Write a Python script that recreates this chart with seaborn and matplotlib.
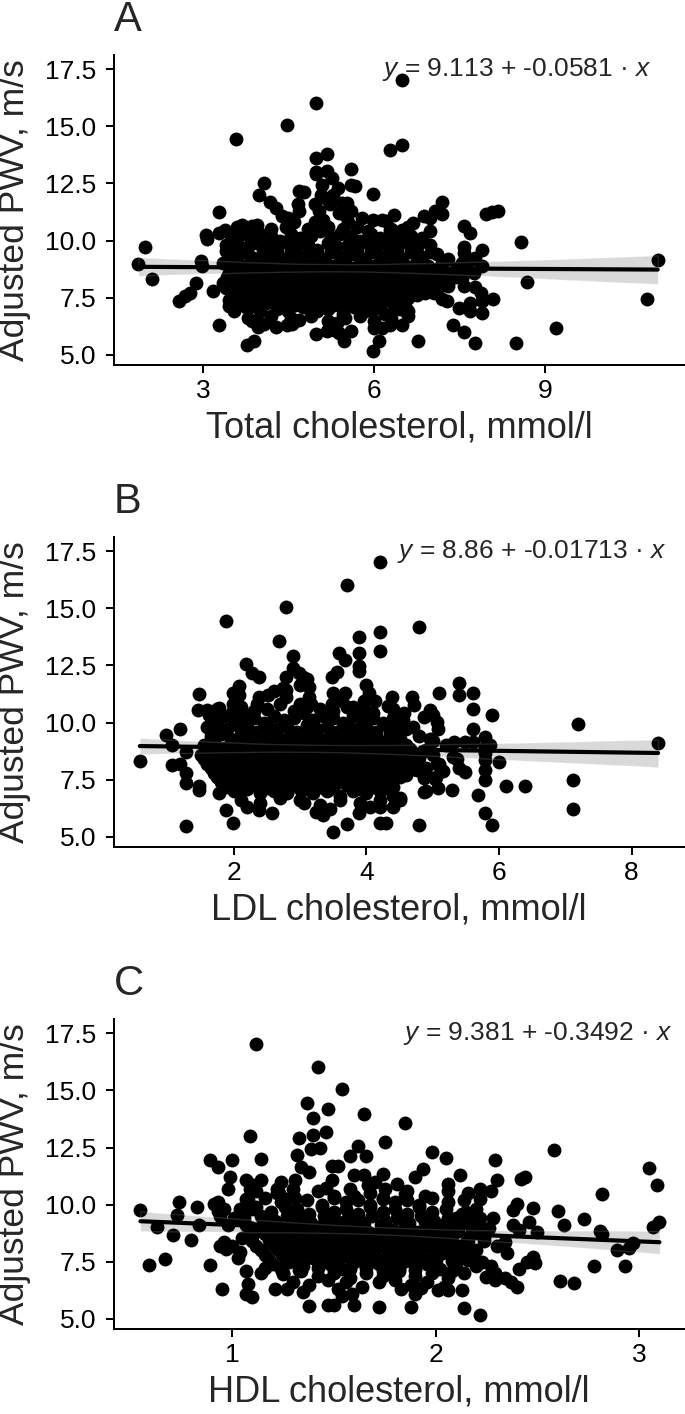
# =============================================================================
# ADJUSTED PWV VS CHOLESTEROL FRACTIONS (3 PANELS)
# =============================================================================

import pandas as pd
import numpy as np
import seaborn as sns
import matplotlib.pyplot as plt

# =============================================================================
# DATA (cholesterol mmol/l, adjusted PWV m/s)
# =============================================================================

# Panel A - total cholesterol, scattered points around the cloud
tc_outer = [
    (6.49, 17.03), (4.99, 16.04), (4.48, 15.04), (3.58, 14.45), (6.28, 13.97),
    (6.49, 14.19), (4.98, 13.61), (5.18, 13.78), (5.59, 13.14), (4.99, 13.0),
    (4.99, 12.9), (5.18, 13.03), (5.26, 12.76), (5.09, 12.44), (4.08, 12.51),
    (3.99, 12.0), (4.18, 11.71), (4.29, 11.42), (4.39, 11.06), (4.49, 10.98),
    (4.68, 12.15), (4.78, 12.12), (4.67, 11.6), (4.68, 11.3), (5.07, 12.0),
    (5.28, 12.0), (5.37, 12.3), (5.44, 11.64), (5.52, 11.64), (5.59, 12.44),
    (5.67, 12.37), (5.59, 11.28), (5.99, 12.03), (5.79, 10.98), (5.98, 10.91),
    (6.14, 10.91), (6.22, 10.84), (6.28, 10.47), (6.36, 11.13), (6.49, 10.47),
    (6.68, 10.77), (6.88, 11.06), (6.98, 10.98), (7.07, 11.28), (7.19, 11.16),
    (7.19, 11.71), (6.98, 10.4), (6.98, 9.82), (7.0, 9.5), (7.96, 11.16),
    (8.07, 11.25), (8.18, 11.28), (7.59, 10.62), (7.69, 10.33), (7.58, 9.72),
    (7.58, 9.45), (7.89, 9.6), (7.78, 9.23), (8.59, 9.93), (8.69, 8.17),
    (10.98, 9.13), (10.79, 7.46), (9.19, 6.17), (8.49, 5.52), (7.78, 5.52),
    (7.59, 6.0), (7.38, 6.32), (7.89, 6.83), (7.89, 7.34), (7.68, 7.27),
    (7.68, 6.9), (8.09, 7.46), (7.78, 7.95), (7.88, 7.7), (7.58, 8.0),
    (7.49, 7.05), (7.19, 7.46), (7.29, 7.34), (6.78, 5.59), (6.09, 5.59),
    (5.98, 5.18), (5.48, 5.59), (4.99, 5.93), (5.17, 6.03), (5.3, 6.1),
    (5.39, 5.95), (5.59, 6.03), (6.0, 6.17), (6.14, 6.17), (6.28, 6.32),
    (6.49, 6.32), (3.78, 5.44), (3.89, 5.59), (3.28, 6.32), (3.97, 6.2),
    (4.07, 6.35), (4.28, 6.2), (4.47, 6.32), (4.57, 6.35), (4.68, 6.54),
    (3.87, 6.47), (2.58, 7.34), (2.68, 7.56), (2.78, 7.7), (2.88, 8.14),
    (3.18, 7.78), (2.1, 8.33), (1.98, 9.74), (1.87, 8.99), (2.97, 9.09),
    (2.98, 8.91), (3.06, 10.26), (3.08, 10.08), (3.28, 11.25), (3.28, 10.33),
    (3.39, 10.47), (3.68, 10.69), (3.87, 10.62), (3.41, 9.53), (3.36, 8.14),
    (3.41, 7.92), (3.45, 7.12), (3.55, 6.9), (3.58, 7.27), (7.9, 8.9),
    (7.75, 8.6), (7.65, 9.1), (7.55, 9.0), (7.75, 9.2), (7.43, 8.4),
    (7.55, 8.35), (7.14, 7.95), (7.05, 7.7), (4.97, 11.6), (5.04, 11.3),
    (5.1, 10.9), (4.97, 10.8), (5.17, 11.8), (5.23, 11.6), (5.39, 11.2),
    (5.49, 11.1), (5.55, 10.8),
]

# Panel A - dense middle of the cloud
tc_core = [
    (3.6, 10.6), (3.95, 10.7), (4.2, 10.5), (4.45, 10.6), (4.6, 10.8), (4.85, 10.5),
    (5.0, 10.7), (5.2, 10.6), (5.45, 10.5), (5.7, 10.6), (5.9, 10.4), (6.3, 10.5),
    (6.6, 10.6),
    (3.5, 10.2), (3.7, 10.3), (3.85, 10.1), (4.0, 10.3), (4.2, 10.2), (4.35, 10.0),
    (4.55, 10.3), (4.7, 10.1), (4.9, 10.2), (5.05, 10.4), (5.25, 10.1), (5.4, 10.3),
    (5.6, 10.2), (5.75, 10.0), (5.95, 10.3), (6.1, 10.1), (6.3, 10.2), (6.45, 10.0),
    (6.65, 10.2), (6.85, 10.1),
    (3.4, 9.8), (3.6, 9.9), (3.8, 9.7), (3.95, 9.9), (4.15, 9.8), (4.3, 9.6),
    (4.5, 9.9), (4.65, 9.7), (4.85, 9.8), (5.0, 9.6), (5.2, 9.9), (5.35, 9.7),
    (5.55, 9.8), (5.7, 9.6), (5.9, 9.9), (6.05, 9.7), (6.25, 9.8), (6.4, 9.6),
    (6.6, 9.9), (6.75, 9.7),
    (3.5, 9.4), (3.7, 9.5), (3.85, 9.3), (4.05, 9.5), (4.2, 9.4), (4.4, 9.2),
    (4.55, 9.5), (4.75, 9.3), (4.9, 9.4), (5.1, 9.2), (5.25, 9.5), (5.45, 9.3),
    (5.6, 9.4), (5.8, 9.2), (5.95, 9.5), (6.15, 9.3), (6.3, 9.4), (6.5, 9.2),
    (6.65, 9.5), (6.85, 9.3), (7.1, 9.4), (7.3, 9.2),
    (3.35, 9.0), (3.55, 9.1), (3.75, 8.9), (3.9, 9.1), (4.1, 9.0), (4.25, 8.8),
    (4.45, 9.1), (4.6, 8.9), (4.8, 9.0), (4.95, 8.8), (5.15, 9.1), (5.3, 8.9),
    (5.5, 9.0), (5.65, 8.8), (5.85, 9.1), (6.0, 8.9), (6.35, 9.0), (6.55, 8.8),
    (6.75, 9.1), (6.95, 8.9), (7.2, 9.0), (7.45, 8.8),
    (3.45, 8.6), (3.65, 8.7), (3.8, 8.5), (4.0, 8.7), (4.15, 8.6), (4.35, 8.4),
    (4.5, 8.7), (4.7, 8.5), (4.85, 8.6), (5.05, 8.4), (5.2, 8.7), (5.4, 8.5),
    (5.55, 8.6), (5.75, 8.4), (5.9, 8.7), (6.1, 8.5), (6.45, 8.6), (6.6, 8.4),
    (6.8, 8.7), (7.0, 8.5), (7.25, 8.6), (7.4, 8.4), (7.55, 8.7),
    (3.4, 8.2), (3.55, 8.3), (3.75, 8.1), (3.9, 8.3), (4.1, 8.2), (4.25, 8.0),
    (4.45, 8.3), (4.6, 8.1), (4.8, 8.2), (4.95, 8.0), (5.15, 8.3), (5.3, 8.1),
    (5.5, 8.2), (5.65, 8.0), (5.85, 8.3), (6.0, 8.1), (6.2, 8.2), (6.5, 8.0),
    (6.7, 8.3), (6.9, 8.1), (7.1, 8.2), (7.3, 8.0),
    (3.5, 7.8), (3.7, 7.9), (3.85, 7.7), (4.05, 7.9), (4.2, 7.8), (4.4, 7.6),
    (4.55, 7.9), (4.75, 7.7), (4.9, 7.8), (5.1, 7.6), (5.25, 7.9), (5.45, 7.7),
    (5.6, 7.8), (5.8, 7.6), (5.95, 7.9), (6.15, 7.7), (6.3, 7.8), (6.5, 7.6),
    (6.7, 7.9), (6.9, 7.7),
    (3.45, 7.4), (3.6, 7.5), (3.8, 7.3), (3.95, 7.5), (4.15, 7.4), (4.3, 7.2),
    (4.5, 7.5), (4.65, 7.3), (4.85, 7.4), (5.0, 7.2), (5.2, 7.5), (5.35, 7.3),
    (5.55, 7.4), (5.7, 7.2), (5.9, 7.5), (6.05, 7.3), (6.25, 7.4), (6.4, 7.2),
    (6.6, 7.5),
    (3.55, 7.0), (3.75, 7.1), (4.0, 6.9), (4.3, 7.0), (4.5, 6.9), (4.75, 7.1),
    (5.0, 6.9), (5.2, 7.0), (5.45, 6.8), (5.65, 7.1), (5.85, 6.9), (6.0, 7.0),
    (6.2, 6.8), (6.45, 7.0), (6.6, 6.9),
    (3.8, 6.6), (4.2, 6.7), (4.55, 6.6), (4.9, 6.7), (5.2, 6.5), (5.5, 6.6),
    (5.75, 6.7), (6.0, 6.5), (6.3, 6.6), (6.6, 6.7), (3.95, 6.5), (5.35, 6.4),
]

# Panel A - the darkest band (7 to 9.3 m/s)
tc_band = [
    (3.5, 8.85), (3.68, 8.8), (3.86, 8.9), (4.04, 8.8), (4.22, 8.85), (4.4, 8.9),
    (4.58, 8.8), (4.76, 8.85), (4.94, 8.9), (5.12, 8.8), (5.3, 8.85), (5.48, 8.9),
    (5.66, 8.8), (5.84, 8.85), (6.02, 8.9), (6.2, 8.8), (6.38, 8.85), (6.56, 8.9),
    (6.74, 8.8), (6.92, 8.85), (7.1, 8.75),
    (3.42, 8.4), (3.6, 8.45), (3.78, 8.35), (3.96, 8.45), (4.14, 8.4), (4.32, 8.35),
    (4.5, 8.45), (4.68, 8.4), (4.86, 8.35), (5.04, 8.45), (5.22, 8.4), (5.4, 8.35),
    (5.58, 8.45), (5.76, 8.4), (5.94, 8.35), (6.12, 8.45), (6.3, 8.4), (6.48, 8.35),
    (6.66, 8.45), (6.84, 8.4), (7.02, 8.35), (7.2, 8.4),
    (3.48, 8.0), (3.66, 8.05), (3.84, 7.95), (4.02, 8.05), (4.2, 8.0), (4.38, 7.95),
    (4.56, 8.05), (4.74, 8.0), (4.92, 7.95), (5.1, 8.05), (5.28, 8.0), (5.46, 7.95),
    (5.64, 8.05), (5.82, 8.0), (6.0, 7.95), (6.18, 8.05), (6.36, 8.0), (6.54, 7.95),
    (6.72, 8.05), (6.9, 8.0),
    (3.52, 7.6), (3.7, 7.65), (3.88, 7.55), (4.06, 7.65), (4.24, 7.6), (4.42, 7.55),
    (4.6, 7.65), (4.78, 7.6), (4.96, 7.55), (5.14, 7.65), (5.32, 7.6), (5.5, 7.55),
    (5.68, 7.65), (5.86, 7.6), (6.04, 7.55), (6.22, 7.65), (6.4, 7.6), (6.58, 7.55),
    (6.76, 7.6),
    (3.6, 7.2), (3.85, 7.15), (4.1, 7.25), (4.4, 7.15), (4.62, 7.2), (4.9, 7.25),
    (5.1, 7.1), (5.3, 7.2), (5.55, 7.15), (5.8, 7.25), (6.1, 7.1), (6.35, 7.2),
    (6.55, 7.15),
    (3.6, 9.25), (3.95, 9.2), (4.3, 9.25), (4.65, 9.2), (5.0, 9.25), (5.4, 9.2),
    (5.75, 9.25), (6.1, 9.2), (6.45, 9.25), (6.8, 9.2),
]

# Panel B - LDL cholesterol, scattered points around the cloud
ldl_outer = [
    (4.2, 17.03), (3.7, 16.04), (2.79, 15.04), (1.88, 14.45), (2.68, 13.58),
    (4.8, 14.19), (4.2, 13.97), (3.89, 13.75), (4.2, 13.14), (3.89, 13.03),
    (3.89, 12.49), (3.89, 12.24), (3.58, 13.03), (3.68, 12.73), (2.89, 12.91),
    (2.18, 12.56), (2.28, 12.15), (2.38, 11.98), (2.89, 12.38), (2.98, 12.15),
    (3.04, 12.0), (3.1, 11.93), (2.78, 12.0), (2.78, 11.42), (2.78, 11.13),
    (3.0, 11.64), (3.13, 11.57), (3.48, 12.0), (3.55, 12.2), (3.99, 11.64),
    (4.04, 11.28), (3.49, 11.3), (3.67, 11.3), (4.32, 10.74), (4.39, 11.13),
    (4.69, 11.1), (4.71, 10.77), (5.1, 11.28), (5.39, 11.74), (5.39, 11.2),
    (5.6, 11.28), (5.6, 10.59), (5.6, 9.74), (5.9, 10.33), (5.79, 9.38),
    (5.79, 8.94), (5.87, 9.02), (6.0, 8.28), (6.1, 7.24), (6.39, 7.24),
    (7.19, 9.93), (7.11, 7.5), (7.11, 6.2), (8.4, 9.13), (5.9, 5.53),
    (5.79, 6.03), (5.69, 6.83), (5.79, 7.5), (5.79, 7.93), (4.79, 5.53),
    (4.2, 5.59), (4.29, 5.62), (3.7, 5.57), (3.49, 5.2), (1.99, 5.59),
    (1.28, 5.47), (1.88, 6.17), (2.38, 6.17), (2.57, 6.03), (0.58, 8.33),
    (0.98, 9.45), (1.18, 9.72), (1.07, 9.02), (1.07, 8.14), (1.18, 8.2),
    (1.28, 8.72), (1.28, 7.79), (1.28, 7.34), (1.48, 7.22), (1.48, 7.05),
    (1.48, 11.25), (1.46, 10.55), (1.6, 10.55), (1.63, 10.33), (1.78, 10.66),
    (1.99, 11.28), (2.08, 11.6), (1.78, 6.9), (3.06, 6.5), (3.24, 6.11),
    (3.35, 5.96), (3.89, 6.03), (4.21, 6.32), (4.4, 6.32), (4.51, 6.6),
    (4.87, 6.97), (5.08, 7.12), (5.29, 7.05), (3.13, 11.1), (3.16, 10.8),
    (2.74, 11.5), (2.52, 11.2), (2.6, 11.4), (2.38, 11.1), (2.35, 10.8),
    (2.07, 11.2), (1.99, 10.8), (1.99, 10.5), (2.99, 10.8), (3.02, 10.5),
    (3.48, 10.8), (3.63, 10.95), (3.79, 10.7), (3.96, 10.95), (4.01, 10.47),
    (4.13, 10.95), (4.57, 10.4), (4.6, 9.7), (4.87, 10.25), (4.96, 10.55),
    (5.01, 10.33), (5.07, 10.04), (5.08, 9.7), (4.96, 9.3), (5.32, 9.15),
    (5.49, 9.15), (5.6, 9.15), (5.37, 8.43), (5.4, 8.0), (5.49, 7.85),
    (5.79, 8.35), (5.79, 8.65), (5.07, 8.2), (5.15, 7.9), (5.04, 7.55),
    (4.74, 8.3), (4.76, 7.93), (4.87, 7.57), (4.9, 7.0),
]

# Panel B - dense middle of the cloud
ldl_core = [
    (1.75, 10.6), (2.1, 10.7), (2.3, 10.5), (2.5, 10.6), (2.7, 10.8), (2.9, 10.5),
    (3.1, 10.7), (3.3, 10.6), (3.5, 10.5), (3.7, 10.7), (3.95, 10.6), (4.1, 10.4),
    (4.4, 10.6),
    (1.7, 10.2), (1.85, 10.3), (2.0, 10.1), (2.15, 10.3), (2.3, 10.2), (2.45, 10.0),
    (2.6, 10.3), (2.75, 10.1), (2.9, 10.2), (3.05, 10.4), (3.2, 10.1), (3.35, 10.3),
    (3.5, 10.2), (3.65, 10.0), (3.8, 10.3), (3.95, 10.1), (4.1, 10.2), (4.25, 10.0),
    (4.4, 10.2), (4.55, 10.1),
    (1.6, 9.8), (1.75, 9.9), (1.9, 9.7), (2.05, 9.9), (2.2, 9.8), (2.35, 9.6),
    (2.5, 9.9), (2.65, 9.7), (2.8, 9.8), (2.95, 9.6), (3.1, 9.9), (3.25, 9.7),
    (3.4, 9.8), (3.55, 9.6), (3.7, 9.9), (3.85, 9.7), (4.0, 9.8), (4.15, 9.6),
    (4.3, 9.9), (4.45, 9.7), (4.7, 9.8),
    (1.65, 9.4), (1.8, 9.5), (1.95, 9.3), (2.1, 9.5), (2.25, 9.4), (2.4, 9.2),
    (2.55, 9.5), (2.7, 9.3), (2.85, 9.4), (3.0, 9.2), (3.15, 9.5), (3.3, 9.3),
    (3.45, 9.4), (3.6, 9.2), (3.75, 9.5), (3.9, 9.3), (4.05, 9.4), (4.2, 9.2),
    (4.35, 9.5), (4.5, 9.3), (4.8, 9.4), (5.0, 9.2),
    (1.55, 9.0), (1.7, 9.1), (1.85, 8.9), (2.0, 9.1), (2.15, 9.0), (2.3, 8.8),
    (2.45, 9.1), (2.6, 8.9), (2.75, 9.0), (2.9, 8.8), (3.05, 9.1), (3.2, 8.9),
    (3.35, 9.0), (3.5, 8.8), (3.65, 9.1), (3.8, 8.9), (3.95, 9.0), (4.1, 8.8),
    (4.25, 9.1), (4.4, 8.9), (4.6, 9.0), (4.9, 8.8), (5.2, 9.0),
    (1.5, 8.6), (1.65, 8.7), (1.8, 8.5), (1.95, 8.7), (2.1, 8.6), (2.25, 8.4),
    (2.4, 8.7), (2.55, 8.5), (2.7, 8.6), (2.85, 8.4), (3.0, 8.7), (3.15, 8.5),
    (3.3, 8.6), (3.45, 8.4), (3.6, 8.7), (3.75, 8.5), (3.9, 8.6), (4.05, 8.4),
    (4.2, 8.7), (4.35, 8.5), (4.5, 8.6), (4.75, 8.4), (5.0, 8.6), (5.3, 8.5),
    (1.6, 8.2), (1.75, 8.3), (1.9, 8.1), (2.05, 8.3), (2.2, 8.2), (2.35, 8.0),
    (2.5, 8.3), (2.65, 8.1), (2.8, 8.2), (2.95, 8.0), (3.1, 8.3), (3.25, 8.1),
    (3.4, 8.2), (3.55, 8.0), (3.7, 8.3), (3.85, 8.1), (4.0, 8.2), (4.15, 8.0),
    (4.3, 8.3), (4.45, 8.1), (4.65, 8.2), (4.9, 8.0), (5.1, 8.2),
    (1.7, 7.8), (1.85, 7.9), (2.0, 7.7), (2.15, 7.9), (2.3, 7.8), (2.45, 7.6),
    (2.6, 7.9), (2.75, 7.7), (2.9, 7.8), (3.05, 7.6), (3.2, 7.9), (3.35, 7.7),
    (3.5, 7.8), (3.65, 7.6), (3.8, 7.9), (3.95, 7.7), (4.1, 7.8), (4.25, 7.6),
    (4.4, 7.9), (4.6, 7.7), (4.85, 7.8), (5.05, 7.6),
    (1.8, 7.4), (2.0, 7.5), (2.15, 7.3), (2.3, 7.5), (2.45, 7.4), (2.6, 7.2),
    (2.75, 7.5), (2.9, 7.3), (3.05, 7.4), (3.2, 7.2), (3.35, 7.5), (3.5, 7.3),
    (3.65, 7.4), (3.8, 7.2), (3.95, 7.5), (4.1, 7.3), (4.25, 7.4), (4.4, 7.2),
    (2.0, 7.0), (2.2, 7.1), (2.4, 6.9), (2.6, 7.0), (2.8, 6.9), (3.0, 7.1),
    (3.2, 6.9), (3.4, 7.0), (3.6, 6.8), (3.8, 7.0), (4.0, 6.9), (4.2, 7.0),
    (4.4, 6.8),
    (2.1, 6.6), (2.4, 6.5), (2.7, 6.7), (3.0, 6.6), (3.3, 6.4), (3.6, 6.6),
    (3.9, 6.5), (4.2, 6.6), (4.5, 6.7), (2.2, 6.3), (3.45, 6.2), (4.05, 6.3),
]

# Panel B - the darkest band
ldl_band = [
    (1.62, 8.85), (1.78, 8.75), (1.93, 8.85), (2.08, 8.75), (2.23, 8.85), (2.38, 8.75),
    (2.53, 8.85), (2.68, 8.75), (2.83, 8.85), (2.98, 8.75), (3.13, 8.85), (3.28, 8.75),
    (3.43, 8.85), (3.58, 8.75), (3.73, 8.85), (3.88, 8.75), (4.03, 8.85), (4.18, 8.75),
    (4.33, 8.85), (4.48, 8.75), (4.65, 8.85), (4.85, 8.75),
    (1.55, 8.4), (1.72, 8.45), (1.87, 8.35), (2.02, 8.45), (2.17, 8.4), (2.32, 8.35),
    (2.47, 8.45), (2.62, 8.4), (2.77, 8.35), (2.92, 8.45), (3.07, 8.4), (3.22, 8.35),
    (3.37, 8.45), (3.52, 8.4), (3.67, 8.35), (3.82, 8.45), (3.97, 8.4), (4.12, 8.35),
    (4.27, 8.45), (4.42, 8.4), (4.6, 8.35), (4.8, 8.45),
    (1.65, 8.0), (1.8, 8.05), (1.95, 7.95), (2.1, 8.05), (2.25, 8.0), (2.4, 7.95),
    (2.55, 8.05), (2.7, 8.0), (2.85, 7.95), (3.0, 8.05), (3.15, 8.0), (3.3, 7.95),
    (3.45, 8.05), (3.6, 8.0), (3.75, 7.95), (3.9, 8.05), (4.05, 8.0), (4.2, 7.95),
    (4.35, 8.05), (4.52, 8.0), (4.7, 7.95),
    (1.75, 7.6), (1.92, 7.65), (2.07, 7.55), (2.22, 7.65), (2.37, 7.6), (2.52, 7.55),
    (2.67, 7.65), (2.82, 7.6), (2.97, 7.55), (3.12, 7.65), (3.27, 7.6), (3.42, 7.55),
    (3.57, 7.65), (3.72, 7.6), (3.87, 7.55), (4.02, 7.65), (4.17, 7.6), (4.32, 7.55),
    (4.5, 7.6),
    (1.9, 7.2), (2.1, 7.15), (2.3, 7.25), (2.5, 7.15), (2.7, 7.2), (2.9, 7.25),
    (3.1, 7.1), (3.3, 7.2), (3.5, 7.15), (3.7, 7.25), (3.9, 7.1), (4.1, 7.2),
    (4.3, 7.15),
    (1.7, 9.25), (2.0, 9.2), (2.3, 9.25), (2.6, 9.2), (2.9, 9.25), (3.2, 9.2),
    (3.5, 9.25), (3.8, 9.2), (4.1, 9.25), (4.4, 9.2),
]

# Panel C - HDL cholesterol, scattered points around the cloud
hdl_outer = [
    (1.12, 17.03), (1.42, 16.04), (1.54, 15.04), (1.37, 14.45), (1.47, 14.19),
    (1.4, 13.78), (1.65, 13.97), (1.85, 13.58), (1.09, 12.99), (1.33, 12.91),
    (1.4, 13.03), (1.46, 13.17), (1.39, 12.44), (1.43, 12.47), (1.32, 12.18),
    (1.75, 12.73), (1.62, 12.55), (1.66, 12.12), (1.58, 12.12), (1.98, 12.3),
    (2.05, 12.05), (2.29, 11.96), (2.58, 12.39), (0.89, 11.96), (0.93, 11.64),
    (1.0, 11.96), (1.14, 12.0), (0.99, 11.2), (0.98, 10.69), (1.09, 10.9),
    (1.14, 11.06), (1.34, 11.64), (1.38, 11.42), (1.49, 11.71), (1.52, 11.71),
    (1.6, 11.28), (1.65, 11.28), (1.7, 10.98), (1.74, 11.35), (1.81, 10.91),
    (1.85, 10.47), (1.94, 11.57), (1.9, 11.2), (2.12, 11.28), (2.06, 10.91),
    (2.22, 10.69), (2.22, 10.23), (2.27, 10.58), (2.3, 11.06), (2.42, 11.13),
    (2.44, 11.2), (2.4, 10.04), (2.38, 9.76), (2.48, 9.85), (2.46, 9.24),
    (2.5, 8.8), (2.6, 9.72), (2.63, 9.1), (2.73, 9.38), (2.82, 10.47),
    (2.81, 8.87), (2.82, 8.73), (3.05, 11.6), (3.09, 10.85), (3.1, 9.24),
    (3.07, 9.02), (2.89, 8.02), (2.95, 8.12), (2.97, 8.33), (2.78, 7.32),
    (2.93, 7.31), (2.61, 6.64), (2.68, 6.58), (2.45, 7.5), (2.49, 7.44),
    (2.48, 7.7), (2.4, 6.41), (2.37, 6.6), (2.34, 6.81), (2.41, 7.2),
    (2.22, 5.19), (2.14, 5.48), (2.13, 6.26), (2.06, 6.26), (2.01, 6.26),
    (1.93, 6.35), (1.88, 5.53), (1.83, 6.32), (1.72, 5.53), (1.6, 5.59),
    (1.54, 6.0), (1.59, 6.1), (1.47, 5.59), (1.5, 5.59), (1.38, 5.56),
    (1.21, 6.32), (1.27, 6.32), (0.95, 6.32), (1.07, 6.1), (1.1, 5.96),
    (1.08, 6.54), (0.89, 7.34), (0.59, 7.34), (0.67, 7.63), (0.55, 9.77),
    (0.63, 9.02), (0.71, 8.68), (0.8, 8.46), (0.73, 9.53), (0.74, 10.1),
    (0.83, 9.91), (0.84, 9.13), (0.94, 8.2), (0.97, 8.07), (0.91, 10.04),
    (0.93, 9.74), (1.03, 7.66), (1.07, 7.08), (1.14, 7.0), (1.16, 7.22),
    (1.25, 6.97), (2.3, 8.2), (2.34, 8.35), (2.35, 7.9), (2.38, 9.1),
    (2.41, 8.9), (2.21, 9.15), (2.25, 8.85), (2.28, 9.4), (2.23, 7.5),
    (2.27, 7.3), (2.29, 7.0), (2.25, 6.85), (2.29, 6.7), (2.1, 9.4),
    (2.15, 9.7), (2.17, 9.35), (1.07, 11.1), (1.09, 10.7), (1.07, 10.25),
    (1.1, 9.8), (0.93, 10.1), (0.96, 9.8), (0.94, 9.5), (0.98, 9.1),
    (1.01, 9.4), (0.96, 8.35), (1.0, 8.2), (1.07, 9.1), (1.05, 8.55),
    (1.04, 7.95), (1.22, 10.7), (1.24, 11.0), (1.31, 11.1), (1.23, 10.5),
    (1.27, 10.25), (1.49, 11.1), (1.46, 10.75), (1.6, 10.4), (1.67, 10.85),
    (1.74, 10.25),
]

# Panel C - dense middle of the cloud
hdl_core = [
    (1.12, 10.6), (1.22, 10.5), (1.3, 10.7), (1.42, 10.6), (1.5, 10.4), (1.58, 10.7),
    (1.68, 10.5), (1.75, 10.7), (1.86, 10.6), (1.95, 10.4), (2.06, 10.6), (2.16, 10.5),
    (1.08, 10.2), (1.16, 10.3), (1.24, 10.1), (1.31, 10.3), (1.37, 10.2), (1.44, 10.0),
    (1.5, 10.3), (1.56, 10.1), (1.62, 10.2), (1.68, 10.0), (1.74, 10.3), (1.8, 10.1),
    (1.86, 10.2), (1.92, 10.0), (1.98, 10.3), (2.06, 10.1), (2.14, 10.2),
    (1.04, 9.8), (1.12, 9.9), (1.19, 9.7), (1.26, 9.9), (1.32, 9.8), (1.38, 9.6),
    (1.44, 9.9), (1.5, 9.7), (1.56, 9.8), (1.62, 9.6), (1.68, 9.9), (1.74, 9.7),
    (1.8, 9.8), (1.86, 9.6), (1.92, 9.9), (1.98, 9.7), (2.05, 9.8), (2.13, 9.6),
    (2.2, 9.8),
    (1.06, 9.4), (1.14, 9.5), (1.21, 9.3), (1.27, 9.5), (1.33, 9.4), (1.39, 9.2),
    (1.45, 9.5), (1.51, 9.3), (1.57, 9.4), (1.63, 9.2), (1.69, 9.5), (1.75, 9.3),
    (1.81, 9.4), (1.87, 9.2), (1.93, 9.5), (1.99, 9.3), (2.06, 9.4), (2.14, 9.2),
    (2.22, 9.4),
    (1.1, 9.0), (1.18, 9.1), (1.25, 8.9), (1.31, 9.1), (1.37, 9.0), (1.43, 8.8),
    (1.49, 9.1), (1.55, 8.9), (1.61, 9.0), (1.67, 8.8), (1.73, 9.1), (1.79, 8.9),
    (1.85, 9.0), (1.91, 8.8), (1.97, 9.1), (2.03, 8.9), (2.1, 9.0), (2.18, 8.8),
    (2.26, 9.0),
    (1.08, 8.6), (1.16, 8.7), (1.23, 8.5), (1.29, 8.7), (1.35, 8.6), (1.41, 8.4),
    (1.47, 8.7), (1.53, 8.5), (1.59, 8.6), (1.65, 8.4), (1.71, 8.7), (1.77, 8.5),
    (1.83, 8.6), (1.89, 8.4), (1.95, 8.7), (2.01, 8.5), (2.08, 8.6), (2.16, 8.4),
    (2.24, 8.6),
    (1.12, 8.2), (1.2, 8.3), (1.27, 8.1), (1.33, 8.3), (1.39, 8.2), (1.45, 8.0),
    (1.51, 8.3), (1.57, 8.1), (1.63, 8.2), (1.69, 8.0), (1.75, 8.3), (1.81, 8.1),
    (1.87, 8.2), (1.93, 8.0), (1.99, 8.3), (2.05, 8.1), (2.12, 8.2), (2.2, 8.0),
    (1.16, 7.8), (1.24, 7.9), (1.31, 7.7), (1.37, 7.9), (1.43, 7.8), (1.49, 7.6),
    (1.55, 7.9), (1.61, 7.7), (1.67, 7.8), (1.73, 7.6), (1.79, 7.9), (1.85, 7.7),
    (1.91, 7.8), (1.97, 7.6), (2.03, 7.9), (2.1, 7.7), (2.18, 7.8),
    (1.2, 7.4), (1.28, 7.5), (1.35, 7.3), (1.42, 7.5), (1.48, 7.4), (1.54, 7.2),
    (1.6, 7.5), (1.66, 7.3), (1.72, 7.4), (1.78, 7.2), (1.84, 7.5), (1.9, 7.3),
    (1.96, 7.4), (2.02, 7.2), (2.1, 7.4), (2.2, 7.3),
    (1.25, 7.0), (1.34, 7.1), (1.42, 6.9), (1.5, 7.0), (1.58, 6.8), (1.66, 7.0),
    (1.74, 6.9), (1.82, 7.1), (1.9, 6.9), (1.98, 7.0), (2.06, 6.8), (2.14, 7.0),
    (1.3, 6.6), (1.38, 6.5), (1.47, 6.7), (1.56, 6.6), (1.64, 6.4), (1.72, 6.6),
    (1.8, 6.7), (1.88, 6.5), (1.96, 6.6), (2.04, 6.4), (1.35, 6.2), (1.52, 6.3),
    (1.9, 6.1),
]

# Panel C - the darkest band
hdl_band = [
    (1.13, 8.85), (1.2, 8.75), (1.26, 8.85), (1.32, 8.75), (1.38, 8.85), (1.44, 8.75),
    (1.5, 8.85), (1.56, 8.75), (1.62, 8.85), (1.68, 8.75), (1.74, 8.85), (1.8, 8.75),
    (1.86, 8.85), (1.92, 8.75), (1.98, 8.85), (2.04, 8.75), (2.11, 8.85), (2.2, 8.75),
    (1.1, 8.4), (1.18, 8.45), (1.24, 8.35), (1.3, 8.45), (1.36, 8.4), (1.42, 8.35),
    (1.48, 8.45), (1.54, 8.4), (1.6, 8.35), (1.66, 8.45), (1.72, 8.4), (1.78, 8.35),
    (1.84, 8.45), (1.9, 8.4), (1.96, 8.35), (2.02, 8.45), (2.08, 8.4), (2.15, 8.35),
    (2.24, 8.4),
    (1.14, 8.0), (1.22, 8.05), (1.28, 7.95), (1.34, 8.05), (1.4, 8.0), (1.46, 7.95),
    (1.52, 8.05), (1.58, 8.0), (1.64, 7.95), (1.7, 8.05), (1.76, 8.0), (1.82, 7.95),
    (1.88, 8.05), (1.94, 8.0), (2.0, 7.95), (2.07, 8.05), (2.15, 8.0),
    (1.18, 7.6), (1.26, 7.65), (1.33, 7.55), (1.4, 7.65), (1.46, 7.6), (1.52, 7.55),
    (1.58, 7.65), (1.64, 7.6), (1.7, 7.55), (1.76, 7.65), (1.82, 7.6), (1.88, 7.55),
    (1.94, 7.65), (2.0, 7.6), (2.08, 7.55), (2.16, 7.6),
    (1.24, 7.2), (1.33, 7.15), (1.42, 7.25), (1.5, 7.15), (1.58, 7.2), (1.66, 7.25),
    (1.74, 7.1), (1.82, 7.2), (1.9, 7.15), (1.98, 7.25), (2.08, 7.1),
    (1.15, 9.25), (1.25, 9.2), (1.35, 9.25), (1.45, 9.2), (1.55, 9.25), (1.65, 9.2),
    (1.75, 9.25), (1.85, 9.2), (1.95, 9.25), (2.05, 9.2), (2.15, 9.25),
]

# labels / equations / axis settings per panel
panel_tags = ["A", "B", "C"]
x_titles = ["Total cholesterol, mmol/l", "LDL cholesterol, mmol/l", "HDL cholesterol, mmol/l"]
equations = [
    r"$\mathit{y}$ = 9.113 + -0.0581 · $\mathit{x}$",
    r"$\mathit{y}$ = 8.86 + -0.01713 · $\mathit{x}$",
    r"$\mathit{y}$ = 9.381 + -0.3492 · $\mathit{x}$",
]
x_ticks = [[3, 6, 9], [2, 4, 6, 8], [1, 2, 3]]
y_ticks = [5.0, 7.5, 10.0, 12.5, 15.0, 17.5]

# =============================================================================
# STYLE
# =============================================================================

sns.set_style("ticks")
plt.rcParams["font.family"] = ["Liberation Sans", "DejaVu Sans"]
plt.rcParams["mathtext.fontset"] = "custom"
plt.rcParams["mathtext.rm"] = "Liberation Sans"
plt.rcParams["mathtext.it"] = "Liberation Sans:italic"

panels = [
    (pd.DataFrame(tc_outer + tc_core + tc_band, columns=["chol", "pwv"]),
     (1.44, 11.44), 0.470, 0.7419),
    (pd.DataFrame(ldl_outer + ldl_core + ldl_band, columns=["chol", "pwv"]),
     (0.19, 8.79), 0.496, 0.4010),
    (pd.DataFrame(hdl_outer + hdl_core + hdl_band, columns=["chol", "pwv"]),
     (0.42, 3.22), 0.507, 0.0601),
]

fig = plt.figure(figsize=(6.85, 14.14), dpi=100)

# =============================================================================
# DRAW THE THREE PANELS
# =============================================================================

for i, (df, xlim, eq_x, bottom) in enumerate(panels):

    ax = fig.add_axes([0.1664, bottom, 0.832, 0.2192])

    sns.regplot(
        data=df,
        x="chol",
        y="pwv",
        ax=ax,
        color="black",
        ci=95,
        seed=1,
        scatter_kws={"s": 100, "linewidths": 0, "alpha": 1},
        line_kws={"linewidth": 3.0}
    )

    ax.set_xlim(xlim)
    ax.set_ylim(4.56, 18.12)
    ax.set_xticks(x_ticks[i])
    ax.set_yticks(y_ticks)
    ax.set_yticklabels([f"{v:.1f}" for v in y_ticks])

    ax.spines[["top", "right"]].set_visible(False)
    for side in ["left", "bottom"]:
        ax.spines[side].set_linewidth(1.45)
        ax.spines[side].set_color("black")

    ax.tick_params(axis="both", length=5.8, width=1.45, labelsize=19,
                   colors="black")
    ax.tick_params(axis="x", pad=4)
    ax.tick_params(axis="y", pad=7)

    ax.set_xlabel(x_titles[i], fontsize=26)
    ax.set_ylabel("Adjusted PWV, m/s", fontsize=25.5)
    ax.xaxis.set_label_coords(0.5, -0.148)
    ax.yaxis.set_label_coords(-0.1456, 0.5)

    ax.text(0.0, 1.113, panel_tags[i], transform=ax.transAxes,
            fontsize=30, ha="left", va="center")

    ax.text(eq_x, 17.5, equations[i], transform=ax.get_yaxis_transform(),
            fontsize=19, ha="left", va="center")

fig.savefig("out.png", dpi=100)
